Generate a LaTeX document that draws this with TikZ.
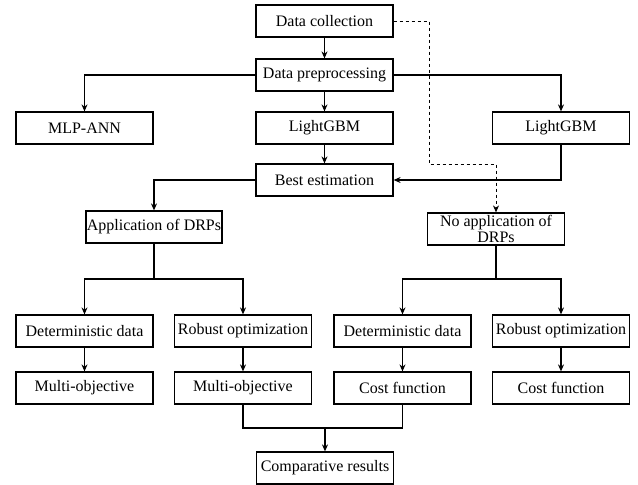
\documentclass[tikz,border=0pt]{standalone}
\usepackage{fontspec}
\setmainfont{Liberation Serif}
\usetikzlibrary{arrows.meta}
\tikzset{
  box/.style={draw, line width=1.2pt, minimum width=137pt, minimum height=32pt, inner sep=0pt, font=\fontsize{16}{15}\selectfont},
  conn/.style={line width=1.2pt, -{Stealth[length=7pt,width=6pt]}},
  link/.style={line width=1.2pt}
}
\begin{document}
\begin{tikzpicture}[x=1pt,y=-1pt]
\useasboundingbox (0,0) rectangle (638,485);
% Modelle
\node[box] (coll) at (324.5,21) {Data collection};
\node[box] (prep) at (324.5,75) {Data preprocessing};
\node[box] (mlp) at (84.5,128) {MLP-ANN};
\node[box] (lgbm) at (324.5,128) {LightGBM};
\node[box] (lgbmr) at (561,128) {LightGBM};
\node[box] (best) at (324.5,180) {Best estimation};
\node[box, minimum width=136pt] (app) at (154,227) {Application of DRPs};
\node[box] (noapp) at (496,229) {\shortstack[c]{No application of\\\hfill DRPs\hfill\null}};
% Optimierung
\node[box] (det1) at (84.5,331) {Deterministic data};
\node[box] (rob1) at (243,331) {Robust optimization};
\node[box] (multi1) at (84.5,388) {Multi-objective};
\node[box] (multi2) at (243,388) {Multi-objective};
\node[box] (det2) at (402.5,331) {Deterministic data};
\node[box] (rob2) at (561,331) {Robust optimization};
\node[box] (cost1) at (402.5,388) {Cost function};
\node[box] (cost2) at (561,388) {Cost function};
\node[box] (comp) at (325,468) {Comparative results};
\coordinate (dashA) at (429,164);
\coordinate (splitL) at (154,279);
\coordinate (splitR) at (496,279);
\coordinate (joinB) at (325,428);
% Pfeile
\draw[conn] (coll) -- (prep);
\draw[conn] (prep) -- (lgbm);
\draw[conn] (prep.west) -| (mlp.north);
\draw[conn] (prep.east) -| (lgbmr.north);
\draw[conn] (lgbm) -- (best);
\draw[conn] (lgbmr.south) |- (best.east);
\draw[conn] (best.west) -| (app.north);
\draw[conn, line width=0.9pt, dashed] (coll.east) -| (dashA) -| (noapp.north);
\draw[link] (app.south) -- (splitL);
\draw[conn] (splitL) -| (det1.north);
\draw[conn] (splitL) -| (rob1.north);
\draw[link] (noapp.south) -- (splitR);
\draw[conn] (splitR) -| (det2.north);
\draw[conn] (splitR) -| (rob2.north);
\draw[conn] (det1) -- (multi1);
\draw[conn] (rob1) -- (multi2);
\draw[conn] (det2) -- (cost1);
\draw[conn] (rob2) -- (cost2);
\draw[link] (multi2.south) |- (joinB) -| (cost1.south);
\draw[conn] (joinB) -- (comp.north);
\end{tikzpicture}
\end{document}
